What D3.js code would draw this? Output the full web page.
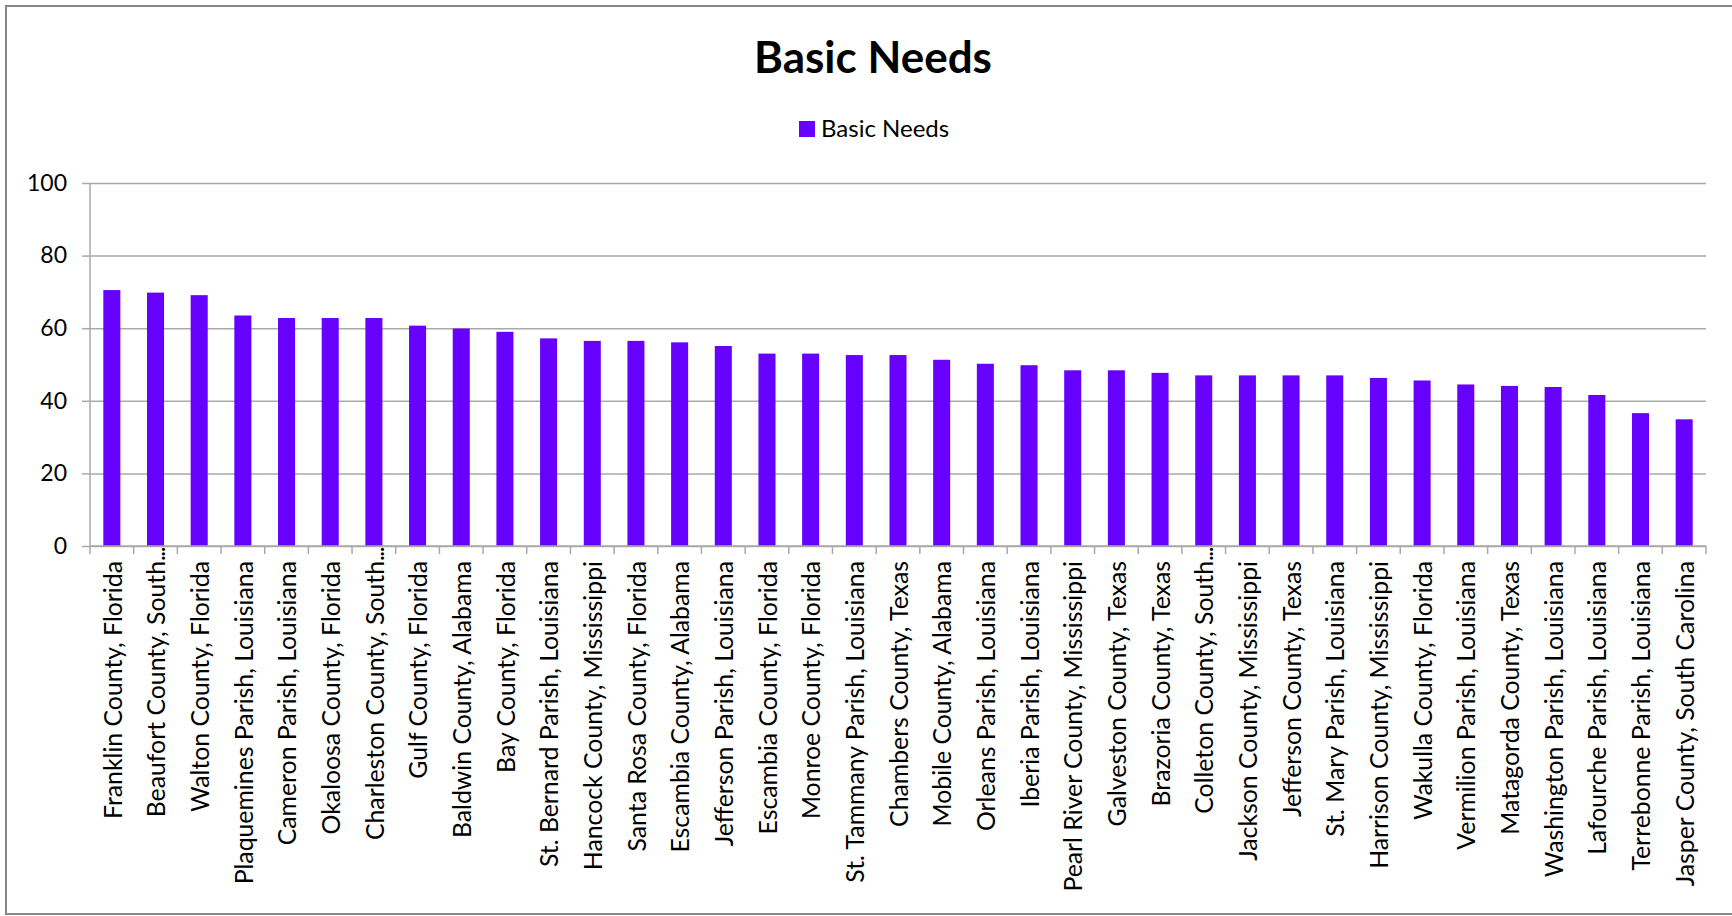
<!DOCTYPE html>
<html>
<head>
<meta charset="utf-8">
<script src="https://cdn.jsdelivr.net/npm/d3@7"></script>
<style>
  html, body { margin: 0; padding: 0; background: #ffffff; }
  svg { display: block; }
  text { font-family: Lato, "Open Sans", sans-serif; fill: #000; }
</style>
</head>
<body>
<script>
// Basic Needs score by county / parish
const chartTitle = "Basic Needs";
const seriesName = "Basic Needs";

const categories = [
  "Franklin County, Florida",
  "Beaufort County, South...",
  "Walton County, Florida",
  "Plaquemines Parish, Louisiana",
  "Cameron Parish, Louisiana",
  "Okaloosa County, Florida",
  "Charleston County, South...",
  "Gulf County, Florida",
  "Baldwin County, Alabama",
  "Bay County, Florida",
  "St. Bernard Parish, Louisiana",
  "Hancock County, Mississippi",
  "Santa Rosa County, Florida",
  "Escambia County, Alabama",
  "Jefferson Parish, Louisiana",
  "Escambia County, Florida",
  "Monroe County, Florida",
  "St. Tammany Parish, Louisiana",
  "Chambers County, Texas",
  "Mobile County, Alabama",
  "Orleans Parish, Louisiana",
  "Iberia Parish, Louisiana",
  "Pearl River County, Mississippi",
  "Galveston County, Texas",
  "Brazoria County, Texas",
  "Colleton County, South...",
  "Jackson County, Mississippi",
  "Jefferson County, Texas",
  "St. Mary Parish, Louisiana",
  "Harrison County, Mississippi",
  "Wakulla County, Florida",
  "Vermilion Parish, Louisiana",
  "Matagorda County, Texas",
  "Washington Parish, Louisiana",
  "Lafourche Parish, Louisiana",
  "Terrebonne Parish, Louisiana",
  "Jasper County, South Carolina"
];

const values = [
  70.5, 69.8, 69.1, 63.5, 62.8, 62.8, 62.8, 60.7, 59.9, 59.0,
  57.2, 56.5, 56.5, 56.1, 55.1, 53.0, 53.0, 52.6, 52.6, 51.3,
  50.2, 49.8, 48.4, 48.4, 47.7, 47.0, 47.0, 47.0, 47.0, 46.3,
  45.6, 44.5, 44.1, 43.8, 41.6, 36.6, 34.9
];

const yTicks = [0, 20, 40, 60, 80, 100];

// ---- layout ----
const W = 1732, H = 916;
const plot = { left: 90, right: 1706, top: 183, bottom: 546 };
const barColor = "#6600ff";
const gridColor = "#a9a9a9";
const labelSize = "24.8px";

const svg = d3.select("body").append("svg")
  .attr("width", W).attr("height", H);

svg.append("rect").attr("width", W).attr("height", H).attr("fill", "#fff");

// chart frame
svg.append("rect")
  .attr("x", 6).attr("y", 6)
  .attr("width", W + 20).attr("height", 908)
  .attr("fill", "none").attr("stroke", "#878787").attr("stroke-width", 2);

// title
svg.append("text")
  .attr("x", 873).attr("y", 73)
  .attr("text-anchor", "middle")
  .style("font-weight", 700).style("font-size", "44px")
  .text(chartTitle);

// legend
const legend = svg.append("g").attr("transform", "translate(799,129)");
legend.append("rect")
  .attr("x", 0).attr("y", -8).attr("width", 16).attr("height", 16)
  .attr("fill", barColor);
legend.append("text")
  .attr("x", 22).attr("y", 0).attr("dy", "0.35em")
  .style("font-size", "24px")
  .text(seriesName);

// scales
const x = d3.scaleBand()
  .domain(categories)
  .range([plot.left, plot.right])
  .paddingInner(0.61)
  .paddingOuter(0.305);

const y = d3.scaleLinear()
  .domain([0, 100])
  .range([plot.bottom, plot.top]);

// value axis with gridlines
const yAxis = svg.append("g")
  .attr("transform", `translate(${plot.left},0)`)
  .call(d3.axisLeft(y)
    .tickValues(yTicks)
    .tickSizeInner(-(plot.right - plot.left))
    .tickSizeOuter(0)
    .tickPadding(23)
    .tickFormat(d3.format("d")));
yAxis.select(".domain").remove();
yAxis.selectAll(".tick line")
  .attr("stroke", gridColor).attr("stroke-width", 1.5);
yAxis.selectAll(".tick")
  .append("line")
  .attr("x1", -8).attr("x2", 0)
  .attr("stroke", gridColor).attr("stroke-width", 1.5);
yAxis.selectAll(".tick text")
  .style("font-family", "Lato, sans-serif")
  .style("font-size", "23px")
  .attr("fill", "#000");

// vertical axis line
svg.append("line")
  .attr("x1", plot.left).attr("x2", plot.left)
  .attr("y1", y(100)).attr("y2", y(0))
  .attr("stroke", gridColor).attr("stroke-width", 1.5);

// bars
svg.append("g").selectAll("rect")
  .data(categories.map((c, i) => ({ c, v: values[i] })))
  .join("rect")
  .attr("x", d => x(d.c))
  .attr("width", x.bandwidth())
  .attr("y", d => y(d.v))
  .attr("height", d => y(0) - y(d.v))
  .attr("fill", barColor);

// category axis line and tick marks between categories
svg.append("line")
  .attr("x1", plot.left).attr("x2", plot.right)
  .attr("y1", y(0)).attr("y2", y(0))
  .attr("stroke", gridColor).attr("stroke-width", 1.5);

const boundaries = d3.range(categories.length + 1)
  .map(k => plot.left + k * x.step());
svg.append("g").selectAll("line")
  .data(boundaries)
  .join("line")
  .attr("x1", d => d).attr("x2", d => d)
  .attr("y1", y(0)).attr("y2", y(0) + 8)
  .attr("stroke", gridColor).attr("stroke-width", 1.5);

// rotated category labels
const labelTop = y(0) + 15;
const labels = svg.append("g").selectAll("g")
  .data(categories)
  .join("g")
  .attr("transform", d => `translate(${x(d) + x.bandwidth() / 2 + 1},${labelTop}) rotate(-90)`);

labels.append("text")
  .attr("text-anchor", "end")
  .attr("dy", "0.35em")
  .style("font-size", labelSize)
  .text(d => d.endsWith("...") ? d.slice(0, -3) : d);

// truncated names: the ellipsis runs on toward the axis
labels.filter(d => d.endsWith("..."))
  .append("text")
  .attr("text-anchor", "start")
  .attr("dy", "0.35em")
  .style("font-size", labelSize)
  .style("letter-spacing", "-1.5px")
  .text("...");
</script>
</body>
</html>
